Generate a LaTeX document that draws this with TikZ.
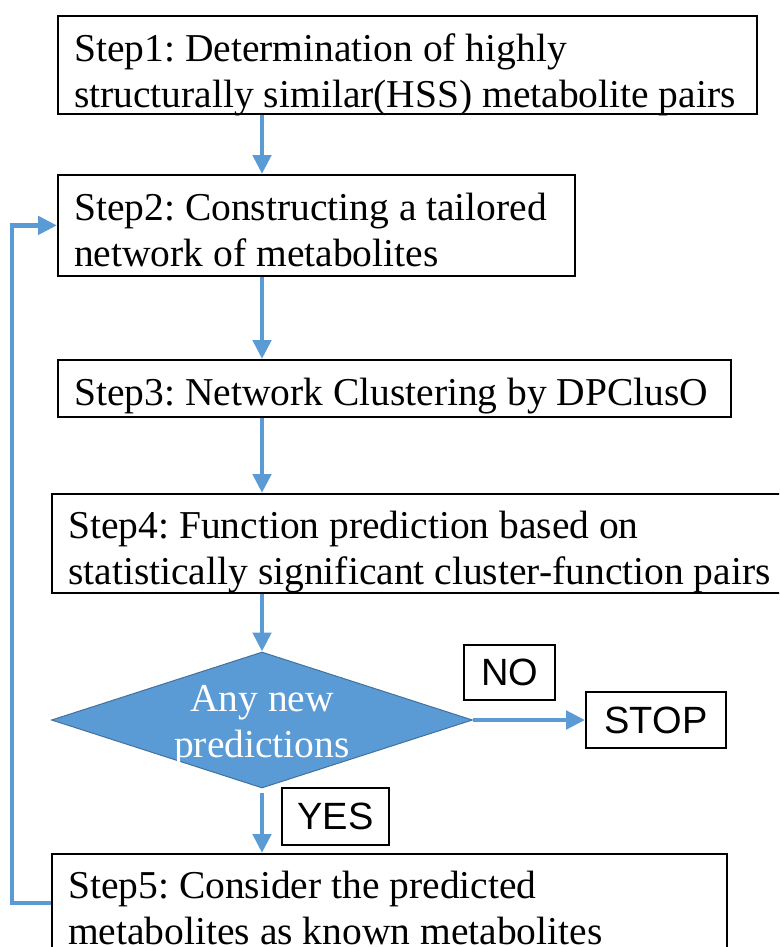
\documentclass[tikz,border=0pt]{standalone}
\usepackage{fontspec}
\setmainfont{Liberation Serif}
\newfontfamily\labelfont{Liberation Sans}
\usetikzlibrary{arrows.meta,shapes.geometric}

\definecolor{flowblue}{HTML}{5B9BD5}
\definecolor{edgeblue}{HTML}{41719C}

\tikzset{
  stepbox/.style={draw=black, line width=1.8pt, rectangle, inner sep=0pt, anchor=north west},
  steptext/.style={anchor=base west, inner sep=0pt, text width=720pt, align=flush left,
    font=\fontsize{39.5}{46}\selectfont\frenchspacing},
  flow/.style={draw=flowblue, line width=4.8pt, line join=miter,
    -{Triangle[length=19pt,width=18pt]}},
  answer/.style={draw=black, line width=1.8pt, rectangle, inner sep=0pt,
    font=\labelfont\fontsize{38}{38}\selectfont},
  decision/.style={diamond, fill=flowblue, draw=edgeblue, line width=1pt, inner sep=0pt},
  decisiontext/.style={anchor=base, inner sep=0pt, text width=300pt, align=flush center,
    text=white, font=\fontsize{39.5}{46}\selectfont}
}

\begin{document}
\begin{tikzpicture}[x=1pt,y=-1pt]
  \useasboundingbox (0,0) rectangle (779,947);
  \clip (0,0) rectangle (779,947);

  % process boxes
  \node[stepbox, minimum width=699pt, minimum height=98pt]  (s1) at (57,15)  {};
  \node[stepbox, minimum width=517pt, minimum height=101pt] (s2) at (57,174) {};
  \node[stepbox, minimum width=673pt, minimum height=57pt]  (s3) at (57,359) {};
  \node[stepbox, minimum width=760pt, minimum height=99pt]  (s4) at (51,493) {};
  \node[stepbox, minimum width=675pt, minimum height=98pt]  (s5) at (51,853) {};

  \node[steptext] (t1) at (74,62)  {Step1: Determination of highly\\structurally similar(HSS) metabolite pairs};
  \node[steptext] (t2) at (74,220) {Step2: Constructing a tailored\\network of metabolites};
  \node[steptext] (t3) at (74,405) {Step3: Network Clustering by DPClusO};
  \node[steptext] (t4) at (68,538) {Step4: Function prediction based on\\statistically significant cluster-function pairs};
  \node[steptext] (t5) at (68,898) {Step5: Consider the predicted\\metabolites as known metabolites};

  % decision
  \node[decision, minimum width=421pt, minimum height=136pt] (dia) at (262,720) {};
  \node[decisiontext] (dt) at (262,711) {Any new\\predictions};

  % answer labels and stop box
  \node[answer, minimum width=91pt,  minimum height=55pt] (no)   at (509.5,672.5) {NO};
  \node[answer, minimum width=140pt, minimum height=56pt] (stop) at (656,720)     {STOP};
  \node[answer, minimum width=107pt, minimum height=57pt] (yes)  at (335.5,816.5) {YES};

  % main flow
  \draw[flow] (s1.south -| dia.north) -- (s2.north -| dia.north);
  \draw[flow] (s2.south -| dia.north) -- (s3.north -| dia.north);
  \draw[flow] (s3.south -| dia.north) -- (s4.north -| dia.north);
  \draw[flow] (s4.south -| dia.north) -- (dia.north);
  \draw[flow, shorten <=4pt] (dia.south) -- (s5.north -| dia.south);
  \draw[flow] (dia.east) -- (stop.west);

  % loop back to step 2
  \coordinate (loop) at (12,500);
  \draw[flow] (s5.west) -- (s5.west -| loop) -- (s2.west -| loop) -- (s2.west);
\end{tikzpicture}
\end{document}
